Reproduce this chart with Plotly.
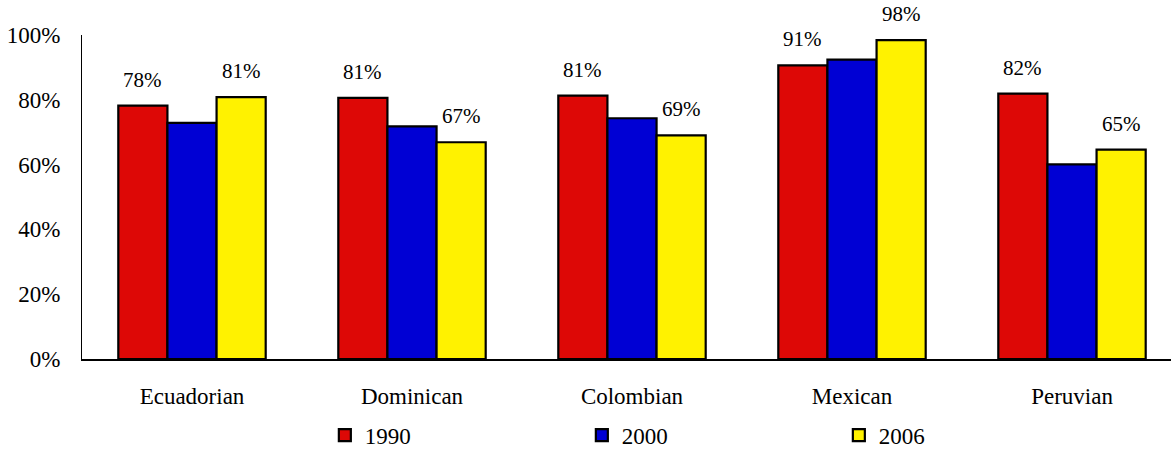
import plotly.graph_objects as go

categories = ["Ecuadorian", "Dominican", "Colombian", "Mexican", "Peruvian"]
years = ["1990", "2000", "2006"]
v1990 = [78.2, 80.6, 81.3, 90.6, 81.9]
v2000 = [72.9, 71.8, 74.3, 92.4, 60.1]
v2006 = [80.8, 66.9, 69.0, 98.4, 64.6]
labelled = {"1990": True, "2000": False, "2006": True}
colors = {"1990": "#DD0806", "2000": "#0000D4", "2006": "#FFF200"}
series = {"1990": v1990, "2000": v2000, "2006": v2006}

FONT = "Liberation Serif"

fig = go.Figure()
for y in years:
    fig.add_trace(go.Bar(
        name=y, x=categories, y=series[y],
        marker=dict(color=colors[y], line=dict(color="black", width=2.2)),
        offsetgroup=y,
    ))

offsets = {"1990": -1, "2000": 0, "2006": 1}
for y in years:
    if not labelled[y]:
        continue
    for i, (c, v) in enumerate(zip(categories, series[y])):
        fig.add_annotation(
            x=i + offsets[y] * 0.2233, y=v, xref="x", yref="y",
            text=f"{int(v + 0.5)}%", showarrow=False,
            yanchor="bottom", yshift=12,
            font=dict(family=FONT, size=21, color="black"),
        )

fig.update_layout(
    width=1171, height=455,
    margin=dict(l=82, r=0, t=35, b=96, autoexpand=False),
    paper_bgcolor="white", plot_bgcolor="white",
    bargap=0.33, bargroupgap=0,
    font=dict(family=FONT, color="black"),
    showlegend=True,
    legend=dict(
        orientation="h", x=0.223, xanchor="left", y=-0.235, yanchor="middle",
        font=dict(family=FONT, size=23, color="black"),
        entrywidth=212, entrywidthmode="pixels",
        itemwidth=30, bgcolor="rgba(0,0,0,0)",
    ),
    xaxis=dict(
        range=[-0.5, 4.45], showline=True, linecolor="black", linewidth=1.5,
        showgrid=False, ticks="", ticklabelstandoff=16, automargin=False,
        tickfont=dict(family=FONT, size=23, color="black"),
    ),
    yaxis=dict(
        range=[0, 100], dtick=20, ticksuffix="%", showline=True,
        linecolor="black", linewidth=1, showgrid=False, zeroline=False,
        ticks="", ticklabelstandoff=16, automargin=False,
        tickfont=dict(family=FONT, size=23, color="black"),
    ),
)

fig.write_html("out.html", config={"displayModeBar": False},
               post_script="document.body.style.margin='0';")
